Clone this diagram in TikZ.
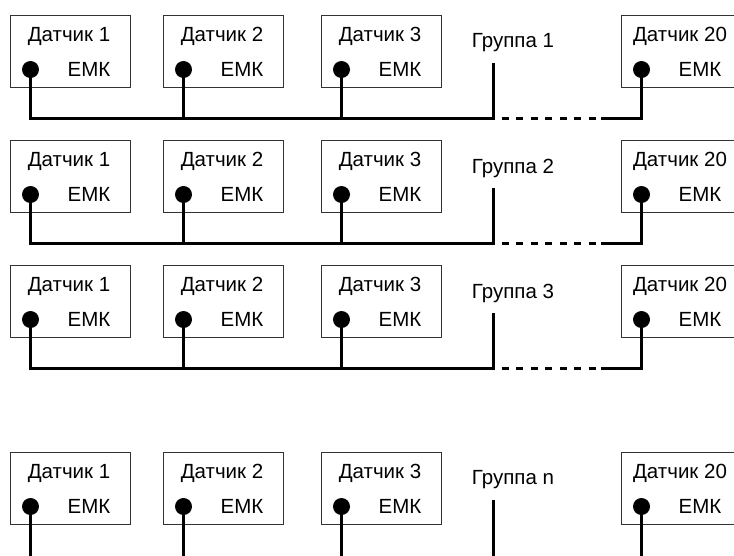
\documentclass[tikz,border=0pt]{standalone}
\usepackage{fontspec}
\setmainfont{Liberation Sans}
\begin{document}
\begin{tikzpicture}[x=1pt,y=-1pt,
  box/.style={draw=black!80, line width=1.3pt, minimum width=120pt, minimum height=72pt, inner sep=0pt, anchor=north west},
  lbl/.style={font=\fontsize{20.5}{24}\selectfont, inner sep=0pt},
  dot/.style={circle, fill=black, minimum size=17pt, inner sep=0pt},
  bus/.style={line width=3pt},
  gap/.style={line width=3pt, dash pattern=on 7pt off 7.5pt, dash phase=6pt}]
\path[use as bounding box, clip] (0,0) rectangle (734,555);
\foreach \r/\t/\g in {1/15/1, 2/140/2, 3/265/3, 4/452/n}{
  \foreach \c/\x in {1/10, 2/163, 3/321, 20/621}{
    \node[box] (s\r-\c) at (\x,\t) {};
    \node[lbl] (t\r-\c) at (\x+59,\t+21) {Датчик \c};
    \node[lbl] (e\r-\c) at (\x+79,\t+54) {ЕМК};
    \node[dot] (d\r-\c) at (\x+20.5,\t+54.5) {};
    \ifnum\r<4
      \coordinate (b\r-\c) at (\x+20.5,\t+103);
    \else
      \coordinate (b\r-\c) at (\x+20.5,556);
    \fi
  }
  \node[lbl] (g\r) at (513,\t+28) {Группа \g};
  \coordinate (gt\r) at (493,\t+48);
  \ifnum\r<4
    \coordinate (gb\r) at (493,\t+103);
    \coordinate (de\r) at (601,\t+103);
    \draw[bus] (d\r-1.center) -- (b\r-1) -- (gb\r) -- (gt\r);
    \draw[bus] (d\r-2.center) -- (b\r-2);
    \draw[bus] (d\r-3.center) -- (b\r-3);
    \draw[bus] (d\r-20.center) -- (b\r-20) -- (de\r);
    \draw[gap] (gb\r) -- (de\r);
  \else
    \coordinate (gb\r) at (493,556);
    \draw[bus] (gt\r) -- (gb\r);
    \foreach \c in {1,2,3,20}{\draw[bus] (d\r-\c.center) -- (b\r-\c);}
  \fi
}
\end{tikzpicture}
\end{document}
